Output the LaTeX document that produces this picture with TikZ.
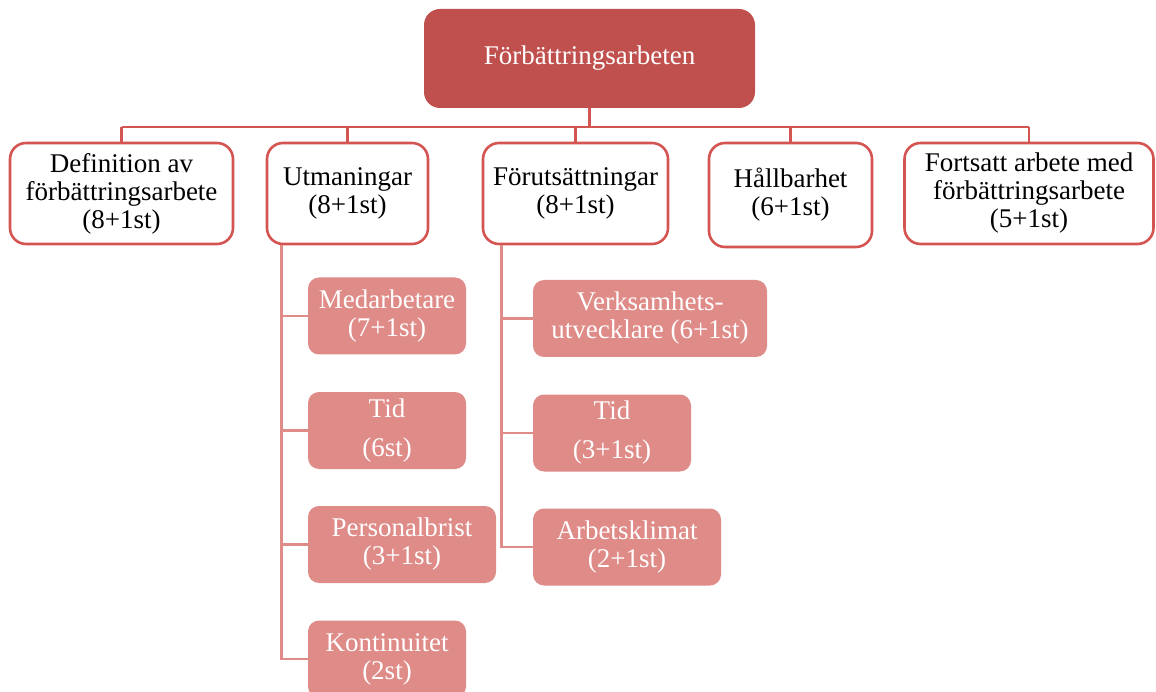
\documentclass[tikz,border=0pt]{standalone}
\usepackage{fontspec}
\setmainfont{Liberation Serif}
\usetikzlibrary{calc}
\definecolor{topred}{RGB}{192,80,77}
\definecolor{linered}{RGB}{212,84,81}
\definecolor{subred}{RGB}{223,139,136}
\begin{document}
\begin{tikzpicture}[x=1pt,y=-1pt,
  every node/.style={inner sep=0pt, align=center,
    font=\fontsize{27}{28}\selectfont},
  topbox/.style={fill=topred, text=white, rounded corners=16pt},
  mainbox/.style={draw=linered, line width=2.6pt, fill=white, rounded corners=16pt,
    minimum height=101pt},
  subbox/.style={fill=subred, text=white, rounded corners=11pt, minimum height=77pt},
  mainlink/.style={draw=linered, line width=2.8pt},
  sublink/.style={draw=subred, line width=2.6pt}]
\useasboundingbox (0,0) rectangle (1156,692);

% root
\node[topbox, minimum width=331pt, minimum height=99pt] (root) at (589.5,58.5) {Förbättringsarbeten};

% first level
\node[mainbox, minimum width=223pt] (def)  at (121.5,193.5) {Definition av\\förbättringsarbete\\(8+1st)};
\node[mainbox, minimum width=161pt] (utm)  at (347.5,193.5) {Utmaningar\\(8+1st)};
\node[mainbox, minimum width=185pt] (fors) at (575.5,193.5) {Förutsättningar\\(8+1st)};
\node[mainbox, minimum width=163pt, minimum height=104pt] (hall) at (790.5,195) {Hållbarhet\\(6+1st)};
\node[mainbox, minimum width=249pt] (fort) at (1029,193.5) {Fortsatt arbete med\\förbättringsarbete\\(5+1st)};

% bus between root and first level
\coordinate (bus) at (0,127);
\draw[mainlink] (root.south) -- (root.south |- bus);
\draw[mainlink] (def.north |- bus) -- (fort.north |- bus);
\foreach \n in {def,utm,fors,hall,fort}
  \draw[mainlink] (\n.north |- bus) -- (\n.north);

% children of Utmaningar
\node[subbox, minimum width=158pt] (med)  at (387,316)   {Medarbetare\\(7+1st)};
\node[subbox, minimum width=158pt] (tida) at (387,430.5) {Tid\\[11pt](6st)};
\node[subbox, minimum width=188pt] (pers) at (402,544.5) {Personalbrist\\(3+1st)};
\node[subbox, minimum width=158pt] (kont) at (387,659)   {Kontinuitet\\(2st)};

\coordinate (utrunk) at ($(utm.south west)+(16,0)$);
\draw[sublink] (utrunk) |- (kont.west);
\foreach \n in {med,tida,pers}
  \draw[sublink] (utrunk |- \n.west) -- (\n.west);

% children of Förutsättningar
\node[subbox, minimum width=234pt] (verk) at (650,318.5) {Verksamhets-\\utvecklare (6+1st)};
\node[subbox, minimum width=158pt] (tidb) at (612,433)   {Tid\\[11pt](3+1st)};
\node[subbox, minimum width=188pt] (arb)  at (627,547)   {Arbetsklimat\\(2+1st)};

\coordinate (ftrunk) at ($(fors.south west)+(20,0)$);
\draw[sublink] (ftrunk) |- (arb.west);
\foreach \n in {verk,tidb}
  \draw[sublink] (ftrunk |- \n.west) -- (\n.west);
\end{tikzpicture}
\end{document}
